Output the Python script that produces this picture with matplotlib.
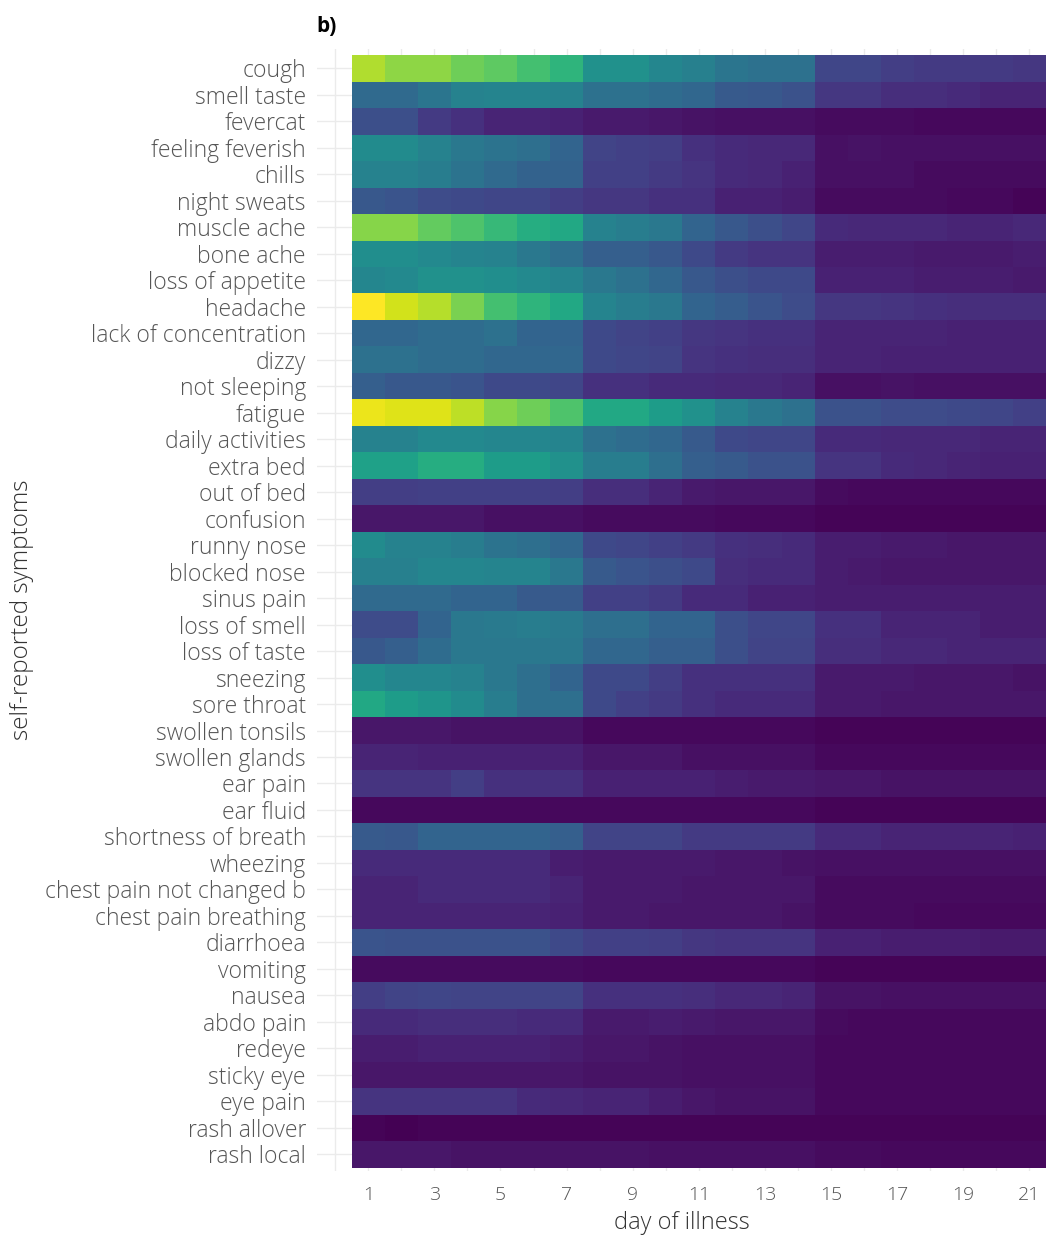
import numpy as np
import matplotlib
matplotlib.use("Agg")
from matplotlib import pyplot as plt

plt.rcParams['font.family'] = ['Open Sans', 'DejaVu Sans']

days = list(range(1, 22))
symptoms = ["cough", "smell taste", "fevercat", "feeling feverish", "chills",
            "night sweats", "muscle ache", "bone ache", "loss of appetite",
            "headache", "lack of concentration", "dizzy", "not sleeping",
            "fatigue", "daily activities", "extra bed", "out of bed",
            "confusion", "runny nose", "blocked nose", "sinus pain",
            "loss of smell", "loss of taste", "sneezing", "sore throat",
            "swollen tonsils", "swollen glands", "ear pain", "ear fluid",
            "shortness of breath", "wheezing", "chest pain not changed b",
            "chest pain breathing", "diarrhoea", "vomiting", "nausea",
            "abdo pain", "redeye", "sticky eye", "eye pain", "rash allover",
            "rash local"]

prop = [
    [0.88,0.83,0.83,0.78,0.75,0.70,0.65,0.50,0.50,0.46,0.43,0.39,0.37,0.37,0.21,0.21,0.18,0.17,0.17,0.17,0.16],
    [0.34,0.34,0.39,0.44,0.45,0.45,0.44,0.37,0.37,0.35,0.33,0.28,0.27,0.25,0.16,0.16,0.13,0.13,0.12,0.10,0.10],
    [0.24,0.24,0.17,0.14,0.10,0.10,0.09,0.07,0.07,0.06,0.05,0.04,0.04,0.04,0.03,0.03,0.03,0.02,0.02,0.02,0.02],
    [0.48,0.48,0.44,0.40,0.38,0.36,0.32,0.20,0.19,0.18,0.14,0.12,0.11,0.11,0.04,0.05,0.04,0.04,0.04,0.04,0.04],
    [0.44,0.44,0.42,0.38,0.34,0.31,0.31,0.19,0.19,0.17,0.15,0.12,0.11,0.09,0.04,0.04,0.04,0.03,0.03,0.03,0.03],
    [0.27,0.26,0.23,0.22,0.21,0.21,0.18,0.16,0.16,0.14,0.14,0.09,0.09,0.08,0.03,0.03,0.03,0.03,0.02,0.02,0.01],
    [0.82,0.82,0.76,0.72,0.67,0.62,0.60,0.44,0.42,0.40,0.32,0.27,0.24,0.21,0.12,0.11,0.11,0.11,0.10,0.10,0.11],
    [0.49,0.49,0.47,0.45,0.44,0.40,0.36,0.30,0.30,0.27,0.22,0.17,0.15,0.15,0.08,0.08,0.08,0.07,0.07,0.07,0.08],
    [0.46,0.47,0.50,0.50,0.49,0.47,0.45,0.40,0.37,0.33,0.27,0.24,0.22,0.22,0.09,0.09,0.09,0.08,0.08,0.08,0.07],
    [1.00,0.93,0.89,0.80,0.70,0.65,0.60,0.45,0.42,0.40,0.32,0.29,0.26,0.23,0.16,0.16,0.15,0.14,0.13,0.13,0.13],
    [0.33,0.33,0.35,0.35,0.37,0.32,0.32,0.22,0.20,0.19,0.16,0.15,0.14,0.14,0.10,0.10,0.10,0.10,0.09,0.09,0.09],
    [0.37,0.37,0.35,0.35,0.33,0.33,0.33,0.22,0.21,0.20,0.15,0.14,0.13,0.13,0.10,0.10,0.09,0.09,0.09,0.09,0.09],
    [0.30,0.27,0.27,0.26,0.22,0.22,0.21,0.14,0.14,0.12,0.12,0.11,0.11,0.10,0.04,0.04,0.05,0.04,0.04,0.04,0.04],
    [0.97,0.95,0.95,0.90,0.82,0.78,0.72,0.60,0.60,0.55,0.50,0.44,0.40,0.37,0.25,0.25,0.23,0.23,0.22,0.21,0.19],
    [0.44,0.44,0.47,0.47,0.46,0.46,0.45,0.37,0.35,0.33,0.28,0.22,0.21,0.21,0.12,0.12,0.11,0.11,0.11,0.10,0.10],
    [0.57,0.57,0.62,0.62,0.55,0.55,0.50,0.42,0.42,0.36,0.30,0.28,0.25,0.25,0.15,0.15,0.12,0.11,0.10,0.09,0.09],
    [0.18,0.18,0.19,0.19,0.19,0.19,0.18,0.13,0.13,0.10,0.07,0.06,0.06,0.06,0.03,0.02,0.02,0.02,0.02,0.02,0.02],
    [0.06,0.06,0.06,0.06,0.04,0.04,0.04,0.03,0.03,0.03,0.03,0.02,0.02,0.02,0.01,0.01,0.01,0.01,0.01,0.01,0.01],
    [0.48,0.44,0.44,0.42,0.38,0.36,0.33,0.22,0.21,0.19,0.17,0.14,0.13,0.12,0.08,0.08,0.07,0.07,0.06,0.06,0.06],
    [0.43,0.43,0.46,0.46,0.45,0.45,0.40,0.28,0.26,0.24,0.22,0.13,0.12,0.12,0.08,0.07,0.06,0.06,0.06,0.06,0.06],
    [0.34,0.34,0.34,0.32,0.32,0.28,0.28,0.19,0.19,0.17,0.12,0.12,0.09,0.09,0.08,0.08,0.08,0.08,0.08,0.08,0.08],
    [0.23,0.23,0.32,0.40,0.41,0.42,0.41,0.36,0.36,0.32,0.32,0.24,0.21,0.21,0.14,0.14,0.10,0.10,0.10,0.08,0.08],
    [0.27,0.30,0.35,0.40,0.40,0.40,0.40,0.33,0.33,0.30,0.30,0.24,0.20,0.20,0.13,0.13,0.11,0.11,0.10,0.10,0.10],
    [0.49,0.46,0.46,0.44,0.40,0.36,0.32,0.22,0.22,0.18,0.14,0.14,0.14,0.14,0.07,0.07,0.07,0.06,0.06,0.06,0.05],
    [0.60,0.55,0.52,0.48,0.42,0.36,0.36,0.22,0.19,0.17,0.14,0.12,0.12,0.12,0.07,0.07,0.06,0.06,0.06,0.06,0.06],
    [0.06,0.06,0.06,0.05,0.05,0.05,0.05,0.02,0.02,0.02,0.02,0.02,0.02,0.02,0.01,0.01,0.01,0.01,0.01,0.01,0.01],
    [0.10,0.10,0.09,0.09,0.09,0.09,0.09,0.06,0.06,0.06,0.04,0.04,0.04,0.04,0.02,0.02,0.02,0.02,0.02,0.02,0.02],
    [0.15,0.15,0.15,0.18,0.14,0.14,0.14,0.09,0.09,0.09,0.09,0.08,0.07,0.07,0.06,0.06,0.05,0.05,0.05,0.05,0.05],
    [0.02,0.02,0.02,0.02,0.02,0.02,0.02,0.02,0.02,0.02,0.02,0.02,0.02,0.02,0.01,0.01,0.01,0.01,0.01,0.01,0.01],
    [0.28,0.27,0.32,0.32,0.32,0.32,0.30,0.20,0.20,0.20,0.17,0.17,0.17,0.17,0.12,0.12,0.10,0.10,0.10,0.10,0.09],
    [0.12,0.12,0.12,0.12,0.12,0.12,0.08,0.07,0.07,0.07,0.07,0.06,0.06,0.05,0.04,0.04,0.04,0.04,0.04,0.04,0.04],
    [0.10,0.10,0.12,0.12,0.12,0.12,0.10,0.07,0.07,0.07,0.06,0.06,0.06,0.06,0.03,0.03,0.03,0.03,0.03,0.03,0.03],
    [0.10,0.10,0.10,0.10,0.10,0.10,0.09,0.07,0.07,0.06,0.06,0.06,0.06,0.05,0.03,0.03,0.03,0.02,0.02,0.02,0.02],
    [0.26,0.25,0.25,0.25,0.25,0.25,0.22,0.19,0.19,0.18,0.16,0.15,0.15,0.15,0.09,0.09,0.08,0.08,0.08,0.07,0.07],
    [0.03,0.03,0.03,0.03,0.03,0.03,0.03,0.02,0.02,0.02,0.02,0.02,0.02,0.02,0.01,0.01,0.01,0.01,0.01,0.01,0.01],
    [0.18,0.20,0.21,0.20,0.20,0.20,0.20,0.14,0.14,0.14,0.13,0.11,0.11,0.10,0.05,0.05,0.04,0.04,0.04,0.04,0.04],
    [0.12,0.12,0.13,0.13,0.13,0.12,0.12,0.07,0.07,0.08,0.07,0.06,0.06,0.06,0.03,0.02,0.02,0.02,0.02,0.02,0.02],
    [0.08,0.08,0.09,0.09,0.09,0.09,0.08,0.06,0.06,0.05,0.04,0.04,0.04,0.04,0.02,0.02,0.02,0.02,0.02,0.02,0.02],
    [0.06,0.06,0.06,0.06,0.06,0.06,0.06,0.05,0.05,0.05,0.04,0.04,0.04,0.04,0.02,0.02,0.02,0.02,0.02,0.02,0.02],
    [0.15,0.15,0.15,0.15,0.15,0.12,0.11,0.10,0.10,0.08,0.06,0.05,0.05,0.05,0.02,0.02,0.02,0.02,0.02,0.02,0.02],
    [0.01,0.00,0.01,0.01,0.01,0.01,0.01,0.01,0.01,0.01,0.01,0.01,0.01,0.01,0.01,0.01,0.01,0.01,0.01,0.01,0.01],
    [0.06,0.06,0.06,0.05,0.05,0.05,0.05,0.05,0.05,0.04,0.04,0.04,0.04,0.04,0.03,0.03,0.02,0.02,0.02,0.02,0.02],
]

W, H = 1046, 1236
fig = plt.figure(figsize=(W / 100, H / 100), dpi=100)
ax = fig.add_axes([317 / W, 1 - 1171 / H, (W - 317) / W, (1171 - 49) / H])

n = len(symptoms)
rows = np.arange(1, n + 1)
ax.pcolormesh(np.arange(0.5, 22), np.arange(0.5, n + 1), np.array(prop),
              cmap="viridis", vmin=0, vmax=1, zorder=2)

ax.set_xlim(-0.55, 21.5)
ax.set_ylim(n + 0.63, 0.27)

ax.set_xticks(days[::2])
ax.set_xticks(range(0, 22, 2), minor=True)
ax.set_yticks(rows)
ax.set_yticklabels(symptoms)
ax.grid(True, which="both", color="#ebebeb", linewidth=1.0, zorder=0)
ax.set_axisbelow(True)
for s in ax.spines.values():
    s.set_visible(False)
ax.tick_params(which="both", length=0)
ax.tick_params(axis="y", labelsize=16.5, labelcolor="#555555", pad=8)
ax.tick_params(axis="x", labelsize=14, labelcolor="#555555", pad=11)
for lab in ax.get_xticklabels() + ax.get_yticklabels():
    lab.set_fontweight("light")

ax.set_xlabel("day of illness", fontsize=17, color="#333333", labelpad=5,
              fontweight="light")
ax.set_ylabel("self-reported symptoms", fontsize=17.5, color="#333333",
              fontweight="light")
ax.yaxis.set_label_coords(-(317 - 34) / (W - 317), 0.5)

fig.text(316 / W, 1 - 26 / H, "b)", fontsize=15, fontweight="bold",
         ha="left", va="center", color="black")

fig.savefig("out.png", dpi=100)
